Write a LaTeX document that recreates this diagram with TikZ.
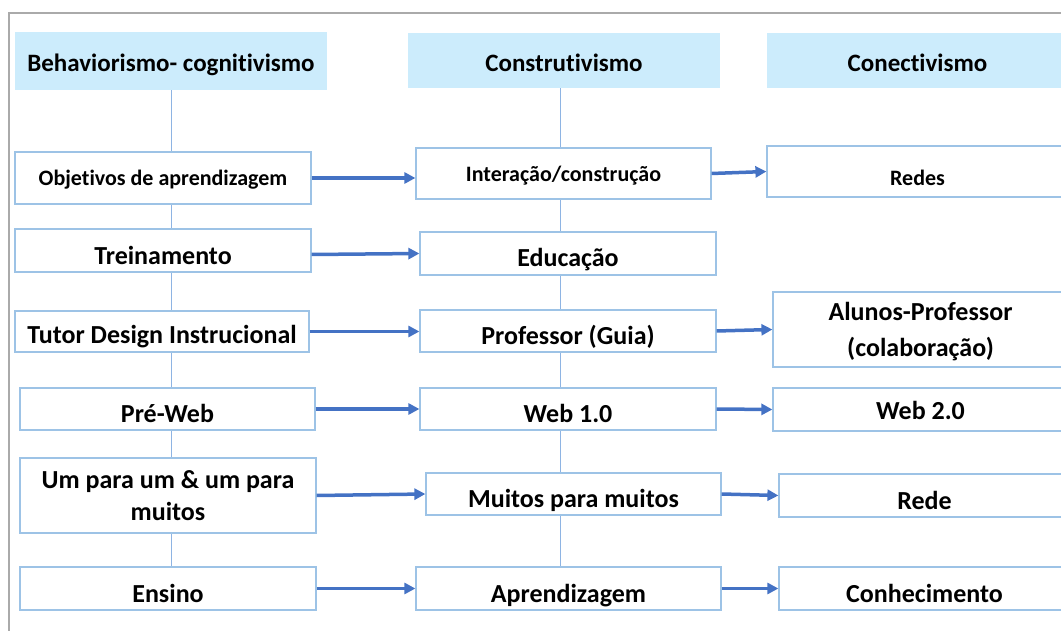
\documentclass[tikz,border=0pt]{standalone}
\usepackage{fontspec}
\setmainfont{Carlito}[Ligatures={NoCommon}]
\usetikzlibrary{arrows.meta,backgrounds}
\definecolor{hdr}{RGB}{204,236,252}
\definecolor{bord}{RGB}{157,195,230}
\definecolor{arrc}{RGB}{68,114,196}
\definecolor{vl}{RGB}{142,180,227}
\definecolor{framec}{RGB}{170,170,170}
\begin{document}
\begin{tikzpicture}[x=1pt,y=-1pt,
 lift/.style={text height=#1, text depth=0pt},
 hdrbox/.style={fill=hdr, inner sep=0pt, lift=21.8pt, font=\bfseries\fontsize{25}{30}\selectfont},
 box/.style={draw=bord, line width=1.2pt, fill=white, inner sep=0pt, align=center, font=\bfseries\fontsize{26}{32.3}\selectfont},
 sbox/.style={box, font=\bfseries\fontsize{22}{26}\selectfont},
 conn/.style={draw=arrc, line width=3.5pt, -{Triangle[length=11pt,width=11pt]}},
 vline/.style={draw=vl, line width=1pt}]
\useasboundingbox (0,0) rectangle (1061,631);
\draw[framec, line width=1.5pt] (9,640) -- (9,13) -- (1075,13);
% column 1
\node[hdrbox, minimum width=312pt, minimum height=58pt] (h1) at (171,61) {Behaviorismo- cognitivismo};
\node[sbox, lift=15.4pt, minimum width=296pt, minimum height=52pt] (obj) at (163,178) {Objetivos de aprendizagem};
\node[box, lift=27.4pt, minimum width=296pt, minimum height=43pt] (tre) at (163,250.5) {Treinamento};
\node[box, lift=25pt, minimum width=294pt, minimum height=41pt] (tut) at (162,331.5) {Tutor Design Instrucional};
\node[box, lift=27.4pt, minimum width=295pt, minimum height=42pt] (pre) at (167.5,409) {Pré-Web};
\node[box, minimum width=296pt, minimum height=75pt] (um) at (168,495.5) {Um para um \& um para\\muitos};
\node[box, lift=27.4pt, minimum width=296pt, minimum height=43pt] (ens) at (168,588.5) {Ensino};
% column 2
\node[hdrbox, minimum width=312pt, minimum height=55pt] (h2) at (564,60.5) {Construtivismo};
\node[sbox, lift=17pt, minimum width=295pt, minimum height=51pt] (int) at (563.5,173.5) {Interação/construção};
\node[box, lift=27pt, minimum width=296pt, minimum height=43pt] (edu) at (568,253.5) {Educação};
\node[box, lift=27.4pt, minimum width=296pt, minimum height=42pt] (prof) at (568,331) {Professor (Guia)};
\node[box, lift=27.4pt, minimum width=296pt, minimum height=42pt] (web1) at (568,409) {Web 1.0};
\node[box, lift=27pt, minimum width=295pt, minimum height=42pt] (mm) at (573.5,494) {Muitos para muitos};
\node[box, lift=27.4pt, minimum width=305pt, minimum height=43pt] (apr) at (568.5,588.5) {Aprendizagem};
% column 3
\node[hdrbox, minimum width=301pt, minimum height=55pt] (h3) at (917.5,60.5) {Conectivismo};
\node[sbox, lift=27.2pt, minimum width=301pt, minimum height=51pt] (red) at (917.5,171.5) {Redes};
\node[box, text depth=0pt, font=\bfseries\fontsize{26}{36.6}\selectfont, minimum width=295pt, minimum height=75pt] (alu) at (920.5,329.5) {Alunos-Professor\\(colaboração)};
\node[box, lift=19.8pt, minimum width=295pt, minimum height=43pt] (w2) at (920.5,409.5) {Web 2.0};
\node[box, lift=27.4pt, minimum width=291pt, minimum height=43pt] (rede) at (924.5,495.5) {Rede};
\node[box, lift=27.4pt, minimum width=291pt, minimum height=43pt] (con) at (924.5,588.5) {Conhecimento};
% vertical lines
\begin{scope}[on background layer]
\draw[vline] (h1.south) -- (h1.south |- ens.north);
\draw[vline] (h2.south -| 560,0) -- (560,0 |- apr.north);
\end{scope}
% arrows
\draw[conn] (obj.east) -- (obj.east -| int.west);
\draw[conn] (int.east) -- (red.west);
\draw[conn] ([yshift=-4pt]tre.east) -- (edu.west);
\draw[conn] (tut.east) -- (tut.east -| prof.west);
\draw[conn] (prof.east) -- (alu.west);
\draw[conn] (pre.east) -- (web1.west);
\draw[conn] (web1.east) -- (w2.west);
\draw[conn] (um.east) -- (mm.west);
\draw[conn] (mm.east) -- (rede.west);
\draw[conn] (ens.east) -- (apr.west);
\draw[conn] (apr.east) -- (con.west);
\end{tikzpicture}
\end{document}
